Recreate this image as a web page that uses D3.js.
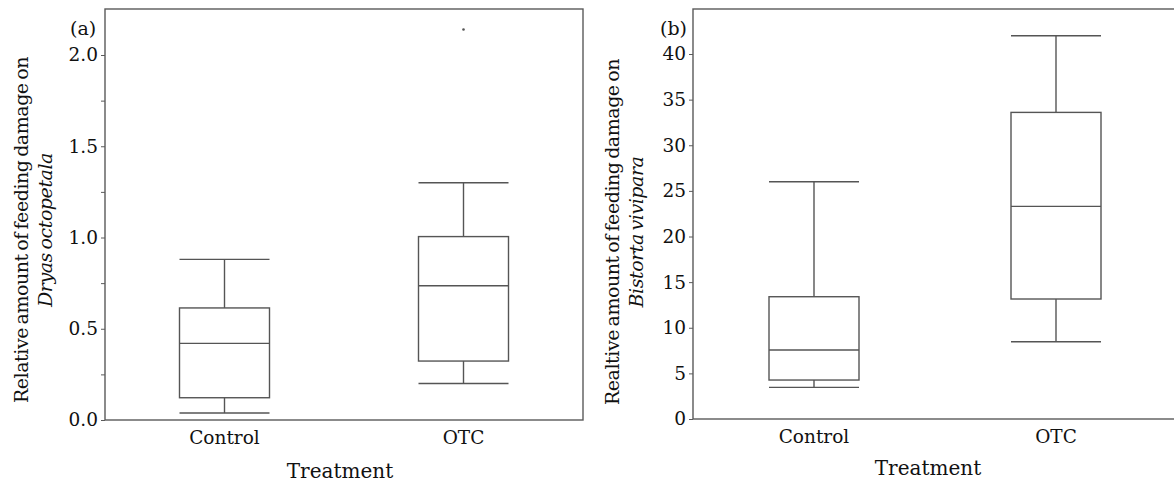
<!DOCTYPE html>
<html>
<head>
<style>
    body { margin: 0; background: #fff; }
    svg text { font-family: "DejaVu Serif", serif; fill: #111; }
    .frame { fill: none; stroke: #5a5a5a; stroke-width: 1.4px; }
    .box line, .box rect { stroke: #555; stroke-width: 1.4px; fill: none; }
    .tick line { stroke: #5a5a5a; }
    .domain { display: none; }
</style>
<script src="https://d3js.org/d3.v7.min.js"></script>
</head>
<body>
<script>
    // treatments
    const groups = ['Control', 'OTC'];

    // panel (a): Dryas octopetala  [lowWhisker, q1, median, q3, highWhisker]
    const dryasControl = [0.038, 0.122, 0.42, 0.614, 0.88];
    const dryasOTC = [0.20, 0.323, 0.736, 1.005, 1.30];
    const dryasOutliers = [{g: 'OTC', v: 2.14}];
    const dryasTicks = [0, 0.5, 1.0, 1.5, 2.0];
    const dryasMinor = [0.25, 0.75, 1.25, 1.75];

    // panel (b): Bistorta vivipara
    const bistortaControl = [3.47, 4.27, 7.56, 13.4, 26];
    const bistortaOTC = [8.47, 13.15, 23.3, 33.6, 42];
    const bistortaTicks = [0, 5, 10, 15, 20, 25, 30, 35, 40];

    const W = 1174, H = 483;
    const svg = d3.select('body').append('svg').attr('width', W).attr('height', H);

    function panel(o) {
        const g = svg.append('g');
        const x = d3.scalePoint().domain(groups).range([o.left, o.right]).padding(0.5);
        const y = d3.scaleLinear().domain(o.domain).range([o.bottom, o.top0]);

        // y axis ticks
        const ya = g.append('g').attr('transform', `translate(${o.left},0)`)
            .call(d3.axisLeft(y).tickValues(o.ticks).tickFormat(o.fmt).tickSize(4).tickPadding(3));
        ya.selectAll('text').style('font-size', '18.5px').attr('fill', '#111');
        if (o.minor) {
            g.append('g').attr('transform', `translate(${o.left},0)`)
                .call(d3.axisLeft(y).tickValues(o.minor).tickFormat('').tickSize(4));
        }

        // frame
        g.append('rect').attr('class', 'frame')
            .attr('x', o.left).attr('y', o.top)
            .attr('width', o.right - o.left).attr('height', o.bottom - o.top);

        // x labels
        g.selectAll('text.cat').data(groups).join('text').attr('class', 'cat')
            .attr('x', d => x(d)).attr('y', o.bottom + 24)
            .attr('text-anchor', 'middle').style('font-size', '18.5px')
            .text(d => d);

        const bw = 90;
        const boxes = g.selectAll('g.box').data(o.data).join('g').attr('class', 'box');
        boxes.append('line')
            .attr('x1', d => x(d.g)).attr('x2', d => x(d.g))
            .attr('y1', d => y(d.s[0])).attr('y2', d => y(d.s[1]));
        boxes.append('line')
            .attr('x1', d => x(d.g)).attr('x2', d => x(d.g))
            .attr('y1', d => y(d.s[3])).attr('y2', d => y(d.s[4]));
        boxes.append('line')
            .attr('x1', d => x(d.g) - bw / 2).attr('x2', d => x(d.g) + bw / 2)
            .attr('y1', d => y(d.s[0])).attr('y2', d => y(d.s[0]));
        boxes.append('line')
            .attr('x1', d => x(d.g) - bw / 2).attr('x2', d => x(d.g) + bw / 2)
            .attr('y1', d => y(d.s[4])).attr('y2', d => y(d.s[4]));
        boxes.append('rect')
            .attr('x', d => x(d.g) - bw / 2).attr('width', bw)
            .attr('y', d => y(d.s[3])).attr('height', d => y(d.s[1]) - y(d.s[3]));
        boxes.append('line')
            .attr('x1', d => x(d.g) - bw / 2).attr('x2', d => x(d.g) + bw / 2)
            .attr('y1', d => y(d.s[2])).attr('y2', d => y(d.s[2]));

        g.selectAll('circle.out').data(o.outliers || []).join('circle').attr('class', 'out')
            .attr('cx', d => x(d.g)).attr('cy', d => y(d.v)).attr('r', 1.3).attr('fill', '#555');

        // panel letter
        g.append('text').attr('x', o.letterX).attr('y', 35).style('font-size', '19px').text(o.letter);

        // axis titles
        g.append('text').attr('x', o.xTitleX).attr('y', o.xTitleY).attr('text-anchor', 'middle')
            .style('font-size', '20px').text('Treatment');
        const yt = g.append('text').attr('text-anchor', 'middle')
            .attr('transform', `translate(${o.yTitleX},${o.yTitleY}) rotate(-90)`)
            .style('font-size', '19px').style('letter-spacing', '-0.45px').style('word-spacing', '-2px');
        yt.append('tspan').attr('x', 0).attr('dy', 0).text(o.yTitle);
        yt.append('tspan').attr('x', 0).attr('dy', 24).style('font-style', 'italic').text(o.species);
    }

    panel({
        left: 105, right: 583, top: 9, top0: 55, bottom: 420,
        domain: [0, 2.0], ticks: dryasTicks, minor: dryasMinor, fmt: d3.format('.1f'),
        data: [{g: 'Control', s: dryasControl}, {g: 'OTC', s: dryasOTC}],
        outliers: dryasOutliers,
        letter: '(a)', letterX: 70,
        xTitleX: 340, xTitleY: 478,
        yTitle: 'Relative amount of feeding damage on', species: 'Dryas octopetala',
        yTitleX: 28, yTitleY: 230
    });

    panel({
        left: 693, right: 1177, top: 9, top0: 54, bottom: 419,
        domain: [0, 40], ticks: bistortaTicks, fmt: d3.format('d'),
        data: [{g: 'Control', s: bistortaControl}, {g: 'OTC', s: bistortaOTC}],
        letter: '(b)', letterX: 660,
        xTitleX: 928, xTitleY: 475,
        yTitle: 'Realtive amount of feeding damage on', species: 'Bistorta vivipara',
        yTitleX: 619, yTitleY: 232
    });
</script>
</body>
</html>
